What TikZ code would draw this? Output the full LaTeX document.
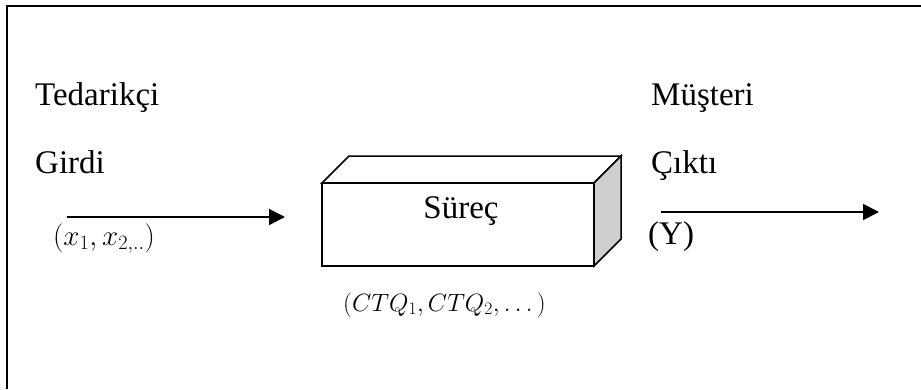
\RequirePackage{fix-cm}
\documentclass[tikz,border=0pt]{standalone}
\usepackage{fontspec}
\setmainfont{Liberation Serif}
\usetikzlibrary{arrows.meta}
\begin{document}
\begin{tikzpicture}[x=1pt,y=-1pt,
  lbl/.style={anchor=base west,inner sep=0pt,font=\fontsize{33}{38}\selectfont},
  mathlbl/.style={anchor=base west,inner sep=0pt,font=\fontsize{29}{34}\selectfont},
  ctqlbl/.style={anchor=base west,inner sep=0pt,font=\fontsize{25}{30}\selectfont},
  flow/.style={line width=2pt,-{Triangle[length=16pt,width=16pt]}},
  edge/.style={line width=1.5pt,line join=miter}]
\useasboundingbox (0,0) rectangle (921,389);
% outer frame (top and left sides)
\draw[line width=2.5pt] (7,389) -- (7,6) -- (921,6);

% process block drawn as a box
\coordinate (fa) at (322,183);
\coordinate (fb) at (594,183);
\coordinate (fc) at (594,266);
\coordinate (fd) at (322,266);
\coordinate (ba) at (349,156);
\coordinate (bb) at (621,156);
\coordinate (bc) at (621,239);
\filldraw[edge,fill=white] (fa) -- (ba) -- (bb) -- (fb) -- cycle;
\filldraw[edge,fill=black!19] (fb) -- (bb) -- (bc) -- (fc) -- cycle;
\draw[edge] (fa) rectangle (fc);
\node[lbl,anchor=base] (proc) at (461,218) {Süreç};

% labels
\node[lbl] (sup) at (35,105) {Tedarikçi};
\node[lbl] (inp) at (35,173) {Girdi};
\node[lbl] (cus) at (651,105) {Müşteri};
\node[lbl] (out) at (651,173) {Çıktı};
\node[mathlbl] (xs) at (53,245) {$(x_1, x_{2,..})$};
\node[lbl] (y) at (648,244) {(Y)};
\node[ctqlbl] (ctq) at (343,311) {$(CTQ_1, CTQ_2, \ldots\,)$};

% flow arrows
\coordinate (in0) at (67,217);
\coordinate (in1) at (285,217);
\coordinate (out0) at (661,212);
\coordinate (out1) at (879,212);
\draw[flow] (in0) -- (in1);
\draw[flow] (out0) -- (out1);
\end{tikzpicture}
\end{document}
